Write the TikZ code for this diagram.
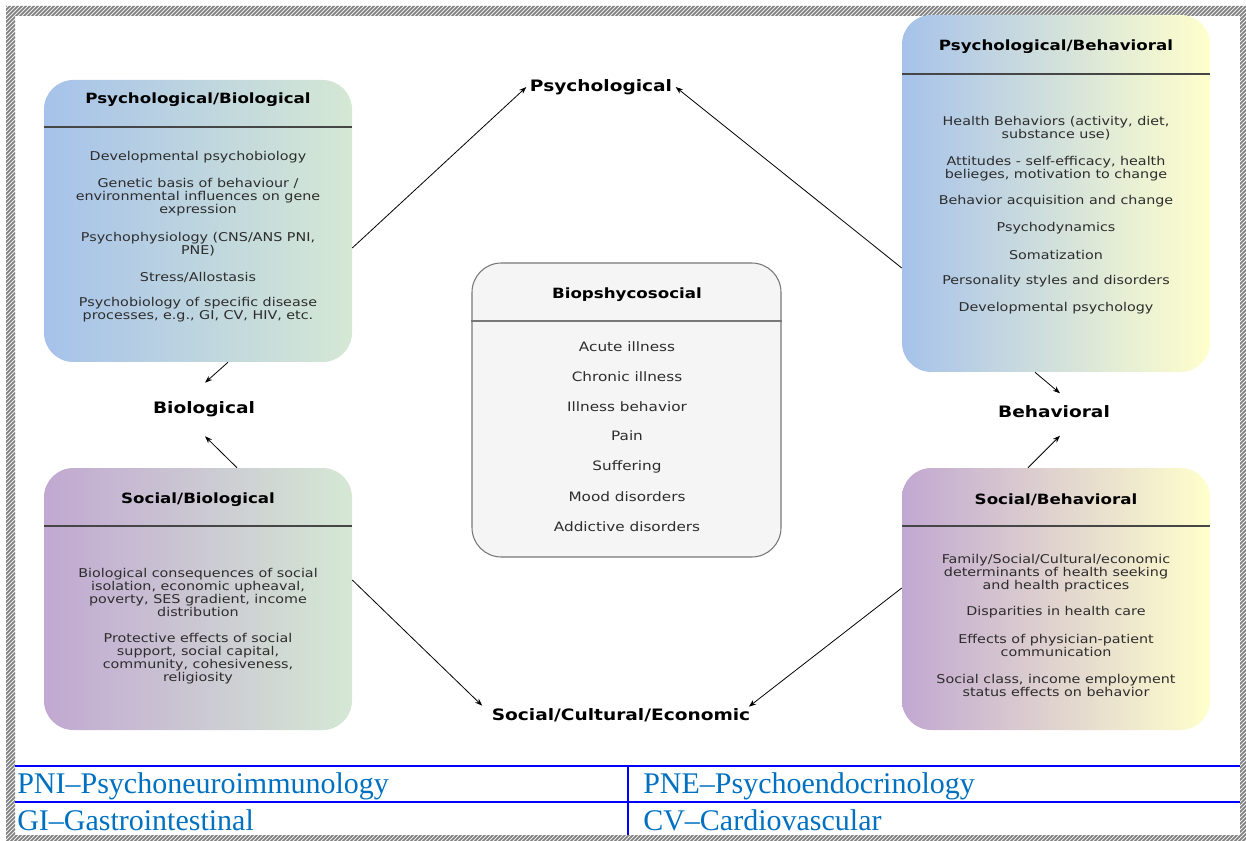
\documentclass[tikz,border=0pt]{standalone}
\usepackage{fontspec}
\setmainfont{DejaVu Sans}[FakeStretch=1.18]
\newfontfamily\notefont{Liberation Serif}
\usetikzlibrary{arrows.meta,fit,calc}

\definecolor{bluel}{RGB}{166,194,234}
\definecolor{greenr}{RGB}{213,232,212}
\definecolor{yellowr}{RGB}{255,255,204}
\definecolor{purplel}{RGB}{193,168,209}
\definecolor{boxgray}{RGB}{245,245,245}
\definecolor{edgegray}{RGB}{120,120,120}
\definecolor{rulegray}{RGB}{70,70,70}
\definecolor{bodytext}{RGB}{45,45,45}
\definecolor{noteblue}{RGB}{0,112,192}
\definecolor{hatchdark}{RGB}{125,125,125}
\definecolor{hatchlight}{RGB}{240,240,240}

\tikzset{
  panel/.style={rounded corners=22pt, inner sep=0pt, draw=none},
  corepanel/.style={rounded corners=22pt, inner sep=0pt, draw=edgegray, line width=0.8pt, fill=boxgray},
  paneltitle/.style={font=\fontsize{10.6}{12}\selectfont\bfseries, text=black, inner sep=0pt},
  bodytxt/.style={font=\fontsize{9.1}{9.9}\selectfont, text=bodytext, align=center, inner sep=0pt},
  coretxt/.style={font=\fontsize{9.7}{11}\selectfont, text=bodytext, inner sep=0pt},
  axislabel/.style={font=\fontsize{11.8}{13}\selectfont\bfseries, text=black, inner sep=2.5pt},
  sep/.style={draw=rulegray, line width=1pt},
  link/.style={-{Stealth[length=5.5pt,width=4pt]}, line width=0.6pt, black},
  noteline/.style={draw=blue, line width=1.5pt},
  note/.style={font=\notefont\fontsize{22.5}{24}\selectfont, text=noteblue, inner sep=0pt, anchor=base west}
}

\begin{document}
\begin{tikzpicture}[x=0.75pt,y=-0.75pt]
\useasboundingbox (0,0) rectangle (1246,841);

% hatched page frame: outer outline one way round, inner the other way
\begin{scope}
  \clip (6,6) -- (1246,6) -- (1246,841) -- (6,841) -- cycle
        (15,16) -- (15,835) -- (1240,835) -- (1240,16) -- cycle;
  \fill[hatchlight] (0,0) rectangle (1246,841);
  \foreach \k in {0,4,...,2100}
    \draw[hatchdark, line width=1.2pt] (\k,0) -- ++(-850,850);
\end{scope}

% abbreviation table
\draw[noteline] (15,766) -- (1240,766);
\draw[noteline] (15,802) -- (1240,802);
\draw[noteline] (628,766) -- (628,835);
\node[note] (pni) at (17,793) {PNI–Psychoneuroimmunology};
\node[note] (pne) at (643,793) {PNE–Psychoendocrinology};
\node[note] (gi) at (17,830) {GI–Gastrointestinal};
\node[note] (cv) at (643,830) {CV–Cardiovascular};

% panels
\node[panel, left color=bluel, right color=greenr, fit={(44,80) (352,362)}] (tl) {};
\node[panel, left color=bluel, right color=yellowr, fit={(902,15) (1210,372)}] (tr) {};
\node[panel, left color=purplel, right color=greenr, fit={(44,468) (352,730)}] (bl) {};
\node[panel, left color=purplel, right color=yellowr, fit={(902,468) (1210,730)}] (br) {};
\node[corepanel, fit={(472,263) (781,557)}] (core) {};

% title rules
\draw[sep] (tl.west |- 0,127) -- (tl.east |- 0,127);
\draw[sep] (tr.west |- 0,74) -- (tr.east |- 0,74);
\draw[sep] (bl.west |- 0,526) -- (bl.east |- 0,526);
\draw[sep] (br.west |- 0,526) -- (br.east |- 0,526);
\draw[draw=edgegray, line width=0.8pt] (core.west |- 0,321) -- (core.east |- 0,321);

% titles
\node[paneltitle] (tlt) at (198,100) {Psychological/Biological};
\node[paneltitle] (trt) at (1056,47) {Psychological/Behavioral};
\node[paneltitle] (blt) at (198,500) {Social/Biological};
\node[paneltitle] (brt) at (1056,500) {Social/Behavioral};
\node[paneltitle] (coret) at (627,295) {Biopshycosocial};

% Psychological/Biological items
\node[bodytxt] (tl1) at (198,157) {Developmental psychobiology};
\node[bodytxt] (tl2) at (198,197) {Genetic basis of behaviour /\\environmental influences on gene\\expression};
\node[bodytxt] (tl3) at (198,244.5) {Psychophysiology (CNS/ANS PNI,\\PNE)};
\node[bodytxt] (tl4) at (198,277) {Stress/Allostasis};
\node[bodytxt] (tl5) at (198,310) {Psychobiology of specific disease\\processes, e.g., GI, CV, HIV, etc.};

% Psychological/Behavioral items
\node[bodytxt] (tr1) at (1056,128.5) {Health Behaviors (activity, diet,\\substance use)};
\node[bodytxt] (tr2) at (1056,168.5) {Attitudes - self-efficacy, health\\belieges, motivation to change};
\node[bodytxt] (tr3) at (1056,201) {Behavior acquisition and change};
\node[bodytxt] (tr4) at (1056,228) {Psychodynamics};
\node[bodytxt] (tr5) at (1056,255) {Somatization};
\node[bodytxt] (tr6) at (1056,281) {Personality styles and disorders};
\node[bodytxt] (tr7) at (1056,308) {Developmental psychology};

% Social/Biological items
\node[bodytxt] (bl1) at (198,592.5) {Biological consequences of social\\isolation, economic upheaval,\\poverty, SES gradient, income\\distribution};
\node[bodytxt] (bl2) at (198,658.5) {Protective effects of social\\support, social capital,\\community, cohesiveness,\\religiosity};

% Social/Behavioral items
\node[bodytxt] (br1) at (1056,573) {Family/Social/Cultural/economic\\determinants of health seeking\\and health practices};
\node[bodytxt] (br2) at (1056,612) {Disparities in health care};
\node[bodytxt] (br3) at (1056,645.5) {Effects of physician-patient\\communication};
\node[bodytxt] (br4) at (1056,685.5) {Social class, income employment\\status effects on behavior};

% Biopsychosocial items
\node[coretxt] (c1) at (627,347) {Acute illness};
\node[coretxt] (c2) at (627,377) {Chronic illness};
\node[coretxt] (c3) at (627,407) {Illness behavior};
\node[coretxt] (c4) at (627,436) {Pain};
\node[coretxt] (c5) at (627,467) {Suffering};
\node[coretxt] (c6) at (627,497) {Mood disorders};
\node[coretxt] (c7) at (627,527) {Addictive disorders};

% domain labels
\node[axislabel] (psy) at (601,87) {Psychological};
\node[axislabel] (bio) at (204,409) {Biological};
\node[axislabel] (beh) at (1054,412) {Behavioral};
\node[axislabel] (sce) at (621,715) {Social/Cultural/Economic};

% connector start points on the panel edges
\coordinate (tlR) at (tl.east |- 0,248);
\coordinate (trL) at (tr.west |- 0,268);
\coordinate (tlB) at (tl.south -| 228,0);
\coordinate (blT) at (bl.north -| 237,0);
\coordinate (trB) at (tr.south -| 1035,0);
\coordinate (brT) at (br.north -| 1028,0);
\coordinate (blR) at (bl.east |- 0,580);
\coordinate (brL) at (br.west |- 0,588);

% connectors
\draw[link] (tlR) -- (psy.west);
\draw[link] (trL) -- (psy.east);
\draw[link] (tlB) -- ($(bio.north)+(1,-15)$);
\draw[link] (blT) -- ($(bio.south)+(1,16)$);
\draw[link] (trB) -- ($(beh.north)+(6,-9)$);
\draw[link] (brT) -- ($(beh.south)+(6,14)$);
\draw[link] (blR) -- ($(sce.north west)+(-6,1)$);
\draw[link] (brL) -- ($(sce.north east)+(-5,2)$);
\end{tikzpicture}
\end{document}
